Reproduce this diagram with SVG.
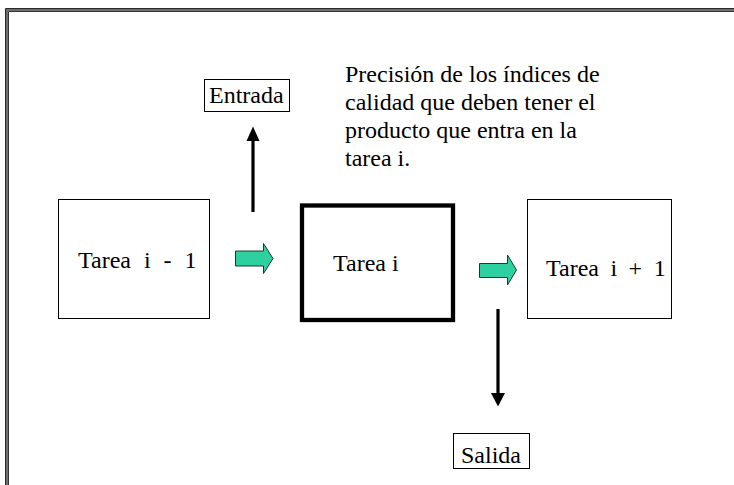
<svg xmlns="http://www.w3.org/2000/svg" width="734" height="485" viewBox="0 0 734 485">
<defs>
<style>
.t{font-family:"Liberation Serif","Times New Roman",serif;font-size:24px;fill:#000}
.ws{word-spacing:7px}
.ws2{word-spacing:5.5px}
.box{fill:#fff;stroke:#000;stroke-width:1}
.thick{fill:#fff;stroke:#000;stroke-width:4.3}
.green{fill:#2fd0a0;stroke:#1a3a30;stroke-width:1}
.ln{stroke:#000;stroke-width:3.2;fill:none}
</style>
</defs>
<rect width="734" height="485" fill="#fff"/>
<g id="frame" fill="none">
<path d="M5.5,485 V8.5 H734" stroke="#2a2a2a" stroke-width="1"/>
<path d="M7,485 V10 H734" stroke="#6e6e6e" stroke-width="2"/>
<path d="M8.5,485 V11.5 H734" stroke="#333" stroke-width="1"/>
</g>
<g id="tarea-prev">
<rect class="box" x="58.5" y="199.5" width="151" height="119"/>
<text class="t ws" x="78" y="268">Tarea i - 1</text>
</g>
<g id="tarea-i">
<rect class="thick" x="302" y="205.5" width="151" height="114.5"/>
<text class="t" x="333" y="271">Tarea i</text>
</g>
<g id="tarea-next">
<rect class="box" x="527.5" y="199.5" width="144" height="119"/>
<text class="t ws2" x="546" y="276">Tarea i + 1</text>
</g>
<g id="entrada">
<rect class="box" x="204.5" y="79.5" width="85" height="32"/>
<text class="t" x="209" y="103">Entrada</text>
</g>
<g id="salida">
<rect class="box" x="453.5" y="433.5" width="76" height="35"/>
<text class="t" x="461" y="463">Salida</text>
</g>
<g id="nota">
<text class="t" x="345" y="82">Precisión de los índices de</text>
<text class="t" x="345" y="110">calidad que deben tener el</text>
<text class="t" x="345" y="138">producto que entra en la</text>
<text class="t" x="345" y="166">tarea i.</text>
</g>
<g id="connectors">
<path class="green" d="M235.5,251 H263.5 V243.5 L273,258.5 L263.5,273.5 V266 H235.5 Z"/>
<path class="green" d="M479.5,263.5 H507.5 V255 L516.5,270 L507.5,285 V277.5 H479.5 Z"/>
<path class="ln" d="M253,212 V141"/>
<path d="M246.5,141 L253,126.5 L259.5,141 Z" fill="#000"/>
<path class="ln" d="M498,309 V393"/>
<path d="M491,393 L498,406.5 L505,393 Z" fill="#000"/>
</g>
</svg>
